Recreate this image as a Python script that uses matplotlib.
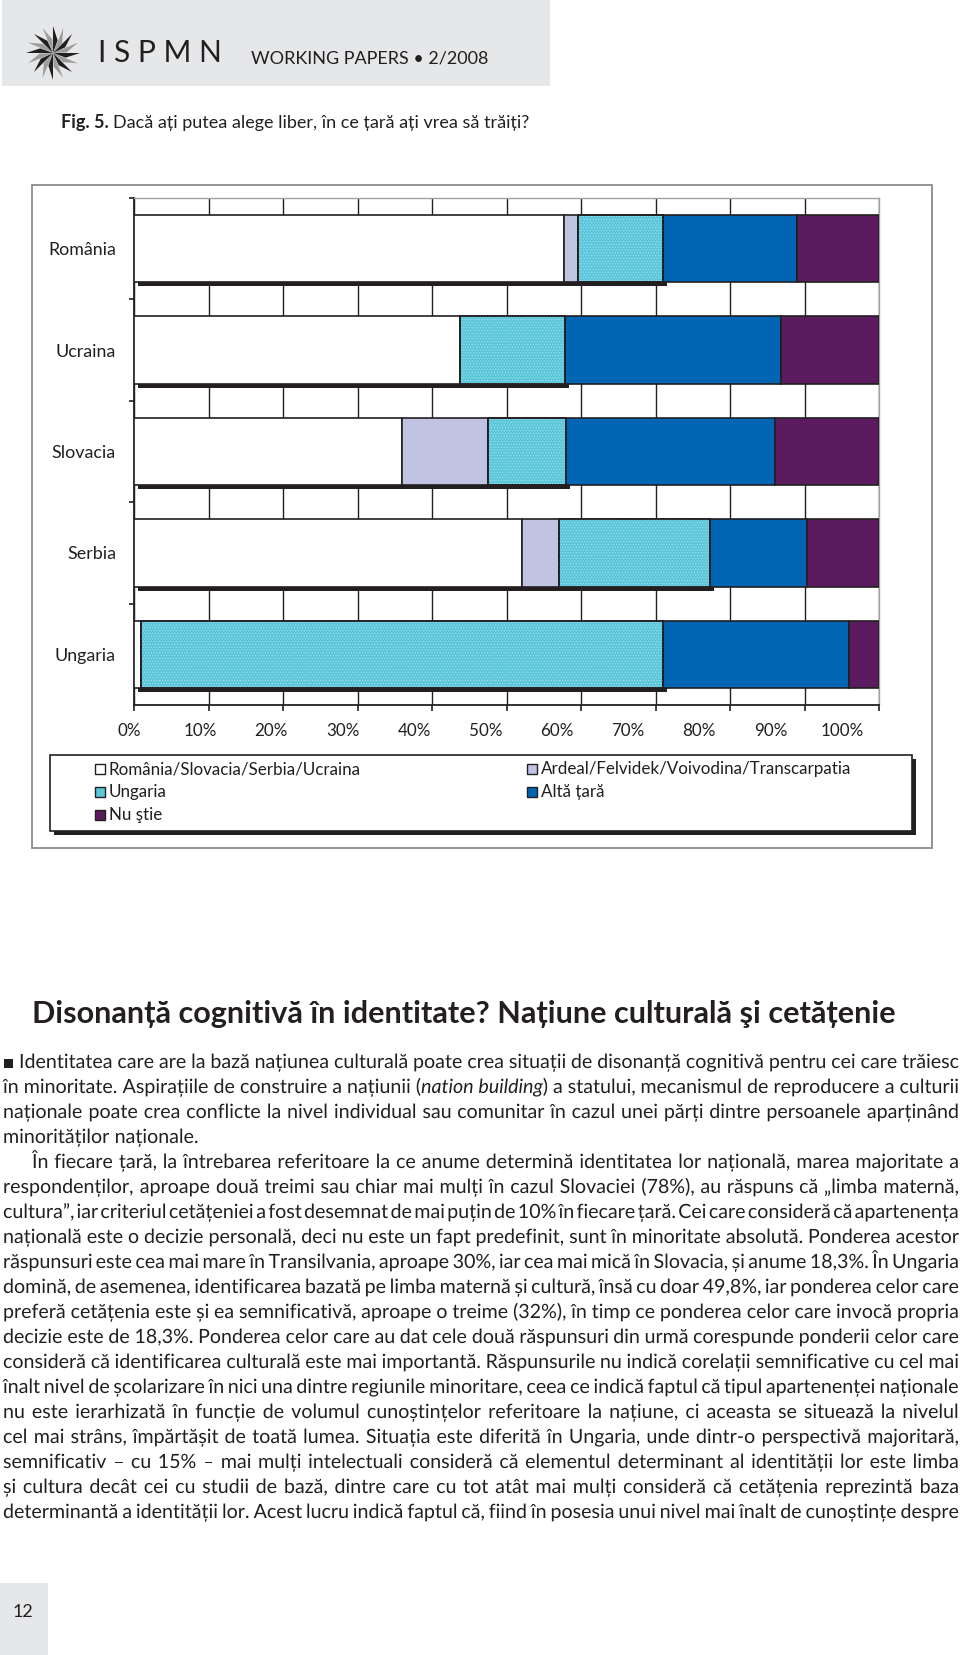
import numpy as np
import matplotlib
matplotlib.use('Agg')
import matplotlib.pyplot as plt
from matplotlib.patches import Rectangle, Polygon, PathPatch
from matplotlib.transforms import ScaledTranslation, blended_transform_factory, Affine2D
from matplotlib.textpath import TextPath
from matplotlib.font_manager import FontProperties

W, H = 960, 1655
DPI = 100
FAMILY = ['Lato', 'DejaVu Sans']
INK = '#231f20'

# date (procente)
countries = ['România', 'Ucraina', 'Slovacia', 'Serbia', 'Ungaria']
series_names = ['România/Slovacia/Serbia/Ucraina',
                'Ardeal/Felvidek/Voivodina/Transcarpatia',
                'Ungaria', 'Altă țară', 'Nu ştie']
home_country = [57.7, 43.8, 36.0, 52.1, 1.0]
home_region = [1.9, 0.0, 11.5, 4.9, 0.0]
hungary = [11.4, 14.0, 10.5, 20.3, 70.0]
other_country = [18.0, 29.0, 28.0, 13.1, 25.0]
dont_know = [11.0, 13.2, 14.0, 9.6, 4.0]
x_ticks = [0, 10, 20, 30, 40, 50, 60, 70, 80, 90, 100]
x_tick_labels = [f'{t}%' for t in x_ticks]
colors = ['#ffffff', '#c1c3e2', '#5cc6db', '#0066b3', '#5c1a5f']

caption_bold = 'Fig. 5.'
caption_text = 'Dacă ați putea alege liber, în ce țară ați vrea să trăiți?'
heading = 'Disonanță cognitivă în identitate? Națiune culturală şi cetățenie'
body_lines = [
    'Identitatea care are la bază națiunea culturală poate crea situații de disonanță cognitivă pentru cei care trăiesc',
    'în minoritate. Aspirațiile de construire a națiunii (*nation building*) a statului, mecanismul de reproducere a culturii',
    'naționale poate crea conflicte la nivel individual sau comunitar în cazul unei părți dintre persoanele aparținând',
    'minorităților naționale.',
    'În fiecare țară, la întrebarea referitoare la ce anume determină identitatea lor națională, marea majoritate a',
    'respondenților, aproape două treimi sau chiar mai mulți în cazul Slovaciei (78%), au răspuns că „limba maternă,',
    'cultura”, iar criteriul cetățeniei a fost desemnat de mai puțin de 10% în fiecare țară. Cei care consideră că apartenența',
    'națională este o decizie personală, deci nu este un fapt predefinit, sunt în minoritate absolută. Ponderea acestor',
    'răspunsuri este cea mai mare în Transilvania, aproape 30%, iar cea mai mică în Slovacia, și anume 18,3%. În Ungaria',
    'domină, de asemenea, identificarea bazată pe limba maternă și cultură, însă cu doar 49,8%, iar ponderea celor care',
    'preferă cetățenia este și ea semnificativă, aproape o treime (32%), în timp ce ponderea celor care invocă propria',
    'decizie este de 18,3%. Ponderea celor care au dat cele două răspunsuri din urmă corespunde ponderii celor care',
    'consideră că identificarea culturală este mai importantă. Răspunsurile nu indică corelații semnificative cu cel mai',
    'înalt nivel de școlarizare în nici una dintre regiunile minoritare, ceea ce indică faptul că tipul apartenenței naționale',
    'nu este ierarhizată în funcție de volumul cunoștințelor referitoare la națiune, ci aceasta se situează la nivelul',
    'cel mai strâns, împărtășit de toată lumea. Situația este diferită în Ungaria, unde dintr-o perspectivă majoritară,',
    'semnificativ – cu 15% – mai mulți intelectuali consideră că elementul determinant al identității lor este limba',
    'și cultura decât cei cu studii de bază, dintre care cu tot atât mai mulți consideră că cetățenia reprezintă baza',
    'determinantă a identității lor. Acest lucru indică faptul că, fiind în posesia unui nivel mai înalt de cunoștințe despre',
]
paragraph_ends = {3}
indented = {4}

fig = plt.figure(figsize=(W / DPI, H / DPI), dpi=DPI)
fig.patch.set_facecolor('white')
renderer = fig.canvas.get_renderer()
probe = fig.text(0, 0, '', family=FAMILY)
px_tr = Affine2D().scale(1 / W, 1 / H) + fig.transFigure


def fx(x):
    return x / W


def fy(y):
    return 1 - y / H


def measure(s, size, weight='normal', style='normal'):
    probe.set_text(s)
    probe.set_fontsize(size)
    probe.set_fontweight(weight)
    probe.set_fontstyle(style)
    return probe.get_window_extent(renderer).width


def fit_size(s, width, weight='normal', ref=20.0):
    return ref * width / measure(s, ref, weight)


def ptext(x, y, s, **kw):
    kw.setdefault('family', FAMILY)
    kw.setdefault('color', INK)
    return fig.text(fx(x), fy(y), s, **kw)


def path_word(x, baseline, s, size, style='normal'):
    # cuvant desenat ca contur, ca sa nu "sara" linia de baza
    prop = FontProperties(family=FAMILY, style=style)
    tp = TextPath((0, 0), s, size=size * DPI / 72, prop=prop)
    fig.add_artist(PathPatch(tp, transform=Affine2D().translate(x, H - baseline) + px_tr,
                             fc=INK, lw=0))


# antet
fig.add_artist(Rectangle((fx(2), fy(86)), fx(550) - fx(2), fy(0) - fy(86),
                         transform=fig.transFigure, color='#e6e7e9', lw=0))
cx, cy, R = 53, 53, 27
n_rays = 16
for i in range(n_rays):
    a = 2 * np.pi * i / n_rays
    pts = [(cx, cy),
           (cx + R * np.cos(a), cy + R * np.sin(a)),
           (cx + 0.5 * R * np.cos(a + 0.35), cy + 0.5 * R * np.sin(a + 0.35))]
    fig.add_artist(Polygon([(fx(px), fy(py)) for px, py in pts], closed=True,
                           transform=fig.transFigure, lw=0,
                           color=INK if i % 2 == 0 else '#9c9c9c'))
ptext(98, 62, 'I S P M N', fontsize=fit_size('I S P M N', 124),
      va='baseline')
ptext(251, 63, 'WORKING PAPERS • 2/2008',
      fontsize=fit_size('WORKING PAPERS • 2/2008', 237), va='baseline')

# titlul figurii
cap_size = fit_size(caption_bold + ' ' + caption_text, 469)
ptext(61, 128, caption_bold, fontsize=cap_size, fontweight='bold', va='baseline')
ptext(61 + measure(caption_bold + ' ', cap_size, 'bold'), 128, caption_text,
      fontsize=cap_size, va='baseline')

# cadrul graficului
fig.add_artist(Rectangle((fx(32), fy(848)), fx(932) - fx(32), fy(185) - fy(848),
                         transform=fig.transFigure, fill=False, ec='#8a8a8a', lw=1.3))

chart_size = fit_size(series_names[0], 252)

ax = fig.add_axes([fx(134), fy(705), fx(879) - fx(134), fy(198) - fy(705)])
y = np.arange(len(countries))
series = [home_country, home_region, hungary, other_country, dont_know]
bar_h = 0.666

shadow_w = np.array(home_country) + np.array(home_region) + np.array(hungary)
shift = ax.transData + ScaledTranslation(4 / DPI, -4 / DPI, fig.dpi_scale_trans)
ax.barh(y, shadow_w, height=bar_h, color=INK, lw=0, zorder=2.5, transform=shift)

left = np.zeros(len(countries))
for k, vals in enumerate(series):
    ax.barh(y, vals, left=left, height=bar_h, color=colors[k], edgecolor=INK,
            lw=1.2, zorder=3)
    if k == 2:
        plt.rcParams['hatch.linewidth'] = 0.5
        ax.barh(y, vals, left=left, height=bar_h, facecolor='none',
                edgecolor='#9fe0ec', hatch='......', lw=0, zorder=3.2)
        ax.barh(y, vals, left=left, height=bar_h, fill=False, edgecolor=INK,
                lw=1.2, zorder=3.4)
    left += np.array(vals)

ax.set_xlim(0, 100)
ax.set_ylim(4.5, -0.5)
ax.set_xticks(x_ticks)
ax.set_xticklabels([])
ax.set_yticks(y, countries)
ax.set_yticks(np.arange(-0.5, 4.0, 1.0), minor=True)
ax.xaxis.grid(True, color=INK, lw=1.0)
ax.set_axisbelow(True)
ax.tick_params(axis='x', length=4.5, width=1.2, color=INK)
ax.tick_params(axis='y', which='major', length=0, pad=13,
               labelsize=chart_size * 1.05, labelcolor=INK)
ax.tick_params(axis='y', which='minor', length=3.8, width=1.2, color=INK)
for lab in ax.get_yticklabels():
    lab.set_family(FAMILY)
# in original etichetele procentuale sunt usor comprimate fata de gradatii
lab_tr = blended_transform_factory(ax.transData, fig.transFigure)
for t, s in zip(x_ticks, x_tick_labels):
    ax.text(-0.7 + t * 0.957, fy(731), s, transform=lab_tr, ha='center',
            va='center', fontsize=chart_size, family=FAMILY, color=INK,
            clip_on=False)
for side in ['top', 'right']:
    ax.spines[side].set_color('#a0a0a0')
    ax.spines[side].set_linewidth(1.0)
for side in ['left', 'bottom']:
    ax.spines[side].set_color(INK)
    ax.spines[side].set_linewidth(1.3)

# legenda
fig.add_artist(Rectangle((fx(54), fy(835)), fx(916) - fx(54), fy(759) - fy(835),
                         transform=fig.transFigure, color=INK, lw=0))
fig.add_artist(Rectangle((fx(50), fy(831)), fx(912) - fx(50), fy(755) - fy(831),
                         transform=fig.transFigure, fc='white', ec=INK, lw=1.2))
leg_rows = [769, 792, 815]
leg_cols = [95, 527]
for k, name in enumerate(series_names):
    lx = leg_cols[k % 2]
    ly = leg_rows[k // 2]
    fig.add_artist(Rectangle((fx(lx), fy(ly + 5)), fx(10), fy(0) - fy(10),
                             transform=fig.transFigure, fc=colors[k], ec=INK, lw=1.0))
    ptext(lx + 14, ly, name, fontsize=chart_size, va='center')

# subtitlu
ptext(32, 1023, heading, fontsize=fit_size(heading, 863, 'bold'),
      fontweight='bold', va='baseline')


# text de corp, aliniat stanga-dreapta
def parse_words(line):
    words = []
    italic = False
    for w in line.split(' '):
        pieces = []
        for k, part in enumerate(w.split('*')):
            if k > 0:
                italic = not italic
            if part:
                pieces.append((part, 'italic' if italic else 'normal'))
        words.append(pieces)
    return words


def line_box(i):
    x0 = 3
    if i == 0:
        x0 = 19
    elif i in indented:
        x0 = 32
    return x0, 959


ref = 12.0
ref_space = measure('a a', ref) - measure('aa', ref)
parsed = [parse_words(line) for line in body_lines]
word_total = [sum(measure(p, ref, style=st) for w in words for p, st in w)
              for words in parsed]
natural = []
for i, words in enumerate(parsed):
    if i in paragraph_ends:
        continue
    x0, x1 = line_box(i)
    natural.append(ref * (x1 - x0) / (word_total[i] + (len(words) - 1) * ref_space))
body_size = float(np.median(natural))
min_gap = 1.8

base0, step = 1068, 25
for i, words in enumerate(parsed):
    x0, x1 = line_box(i)
    n = len(words)
    size = body_size
    total = word_total[i] * size / ref
    if i not in paragraph_ends and total + (n - 1) * min_gap > x1 - x0:
        size = ref * (x1 - x0 - (n - 1) * min_gap) / word_total[i]
    widths = [[measure(p, size, style=st) for p, st in w] for w in words]
    total = sum(sum(ws) for ws in widths)
    if i in paragraph_ends or n < 2:
        gap = ref_space * size / ref
    else:
        gap = (x1 - x0 - total) / (n - 1)
    bl = base0 + step * i
    x = x0
    for w, ws in zip(words, widths):
        for (p, st), pw in zip(w, ws):
            path_word(x, bl, p, size, st)
            x += pw
        x += gap

# buline patrata
fig.add_artist(Rectangle((fx(4), fy(base0)), fx(9), fy(0) - fy(9.5),
                         transform=fig.transFigure, color=INK, lw=0))

# numarul paginii
fig.add_artist(Rectangle((fx(0), fy(1655)), fx(48), fy(1583) - fy(1655),
                         transform=fig.transFigure, color='#e6e7e9', lw=0))
ptext(23, 1612, '12', fontsize=13, ha='center', va='center')

probe.remove()
fig.savefig('out.png', dpi=DPI)
